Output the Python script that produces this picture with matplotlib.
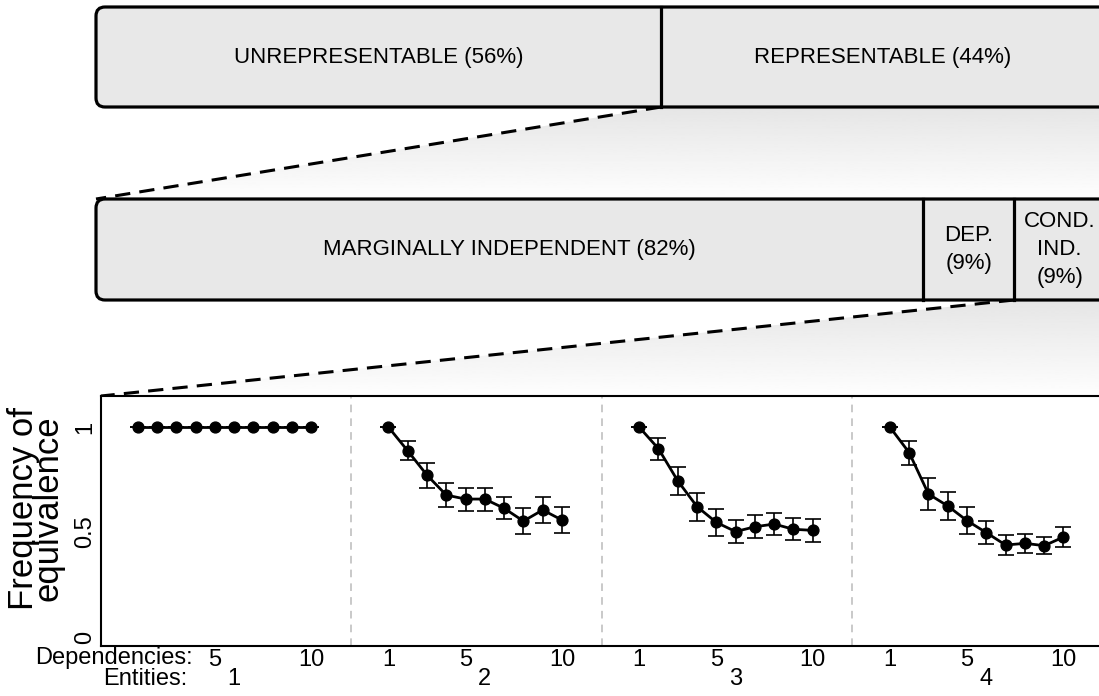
import numpy as np
import matplotlib
matplotlib.use("Agg")
import matplotlib.pyplot as plt
from matplotlib.patches import FancyBboxPatch, Polygon
import matplotlib.transforms as mtransforms

plt.rcParams['font.family'] = ['Liberation Sans', 'DejaVu Sans']

# данные: доли в полосах
top_labels = ["UNREPRESENTABLE (56%)", "REPRESENTABLE (44%)"]
top_shares = [56, 44]
mid_labels = ["MARGINALLY INDEPENDENT (82%)", "DEP.\n(9%)", "COND.\nIND.\n(9%)"]
mid_shares = [82, 9, 9]

# данные: частота эквивалентности по числу зависимостей
entities = [1, 2, 3, 4]
dependencies = list(range(1, 11))
freq = [
    [1.0] * 10,
    [1.0, 0.887, 0.771, 0.676, 0.657, 0.657, 0.613, 0.552, 0.605, 0.557],
    [1.0, 0.897, 0.744, 0.621, 0.546, 0.502, 0.525, 0.538, 0.513, 0.508],
    [1.0, 0.878, 0.681, 0.624, 0.554, 0.497, 0.438, 0.446, 0.435, 0.476],
]
errs = [
    [0.0] * 10,
    [0.0, 0.045, 0.059, 0.059, 0.055, 0.055, 0.053, 0.062, 0.060, 0.062],
    [0.0, 0.053, 0.067, 0.067, 0.063, 0.054, 0.054, 0.054, 0.053, 0.054],
    [0.0, 0.057, 0.075, 0.065, 0.063, 0.055, 0.049, 0.046, 0.041, 0.048],
]
xticks_dep = [1, 5, 10]

W, H = 1099, 696
fig = plt.figure(figsize=(W / 100, H / 100), dpi=100)

# фоновая ось в пикселях для полос и "лупы"
bg = fig.add_axes([0, 0, 1, 1])
bg.set_xlim(0, W)
bg.set_ylim(H, 0)
bg.axis('off')

bar_x0, bar_w = 96, 1009
fill = '#e8e8e8'


def draw_bar(y0, h, shares, labels, fs):
    box = FancyBboxPatch((bar_x0, y0), bar_w + 20, h,
                         boxstyle="round,pad=0,rounding_size=9",
                         fc=fill, ec='black', lw=2.3, zorder=3)
    bg.add_patch(box)
    edges = np.cumsum([0] + shares) / 100.0 * bar_w + bar_x0
    for i, lab in enumerate(labels):
        if i > 0:
            bg.plot([edges[i], edges[i]], [y0, y0 + h], color='black', lw=2.3, zorder=4)
        bg.text((edges[i] + edges[i + 1]) / 2, y0 + h / 2, lab, ha='center', va='center',
                fontsize=fs, zorder=5, linespacing=1.45)
    return edges


def draw_zoom(x_from, y_from, x_to, y_to):
    right = bar_x0 + bar_w + 20
    poly = Polygon([(x_from, y_from), (right, y_from), (right, y_to), (x_to, y_to)],
                   closed=True, fc='none', ec='none')
    bg.add_patch(poly)
    grad = np.linspace(0.90, 0.995, 64).reshape(-1, 1)
    im = bg.imshow(grad, cmap='gray', vmin=0, vmax=1, aspect='auto',
                   extent=(x_to, right, y_to, y_from), zorder=1, interpolation='bilinear')
    im.set_clip_path(poly)
    bg.plot([x_from, x_to], [y_from, y_to], color='black', lw=2.2,
            linestyle=(0, (5, 3)), zorder=2)


e1 = draw_bar(7, 100, top_shares, top_labels, 16)
e2 = draw_bar(199, 101, mid_shares, mid_labels, 16)
draw_zoom(e1[1], 107, 96, 199)
draw_zoom(e2[2], 300, 101, 396)
bg.set_xlim(0, W)
bg.set_ylim(H, 0)

# нижний график
ax = fig.add_axes([101 / W, (H - 646) / H, (1104 - 101) / W, 250 / H])
gap = 13
for k, (vals, er) in enumerate(zip(freq, errs)):
    xs = np.array(dependencies) + gap * k
    ax.errorbar(xs, vals, yerr=er, fmt='-o', color='black', lw=2.0, ms=7.8,
                elinewidth=1.2, capsize=6, capthick=1.2)
    if k > 0:
        ax.axvline(gap * k - 0.95, color='#bbbbbb', lw=1.1, linestyle=(0, (5, 4)))

ax.set_xlim(-0.9, 51.1)
ax.set_ylim(-0.043, 1.148)

ticks, ticklabs = [], []
for k in range(len(entities)):
    for d in xticks_dep:
        if k == 0 and d == 1:
            continue
        ticks.append(d + gap * k)
        ticklabs.append(str(d))
fs = 17
ax.set_xticks(ticks)
ax.set_xticklabels(ticklabs, fontsize=fs)
ax.set_yticks([0, 0.5, 1])
ax.set_yticklabels(['0', '0.5', '1'], rotation=90, va='center', fontsize=fs)
ax.tick_params(length=0, pad=2.5)
ax.tick_params(axis='y', pad=3.5)
for s in ax.spines.values():
    s.set_linewidth(1.5)

trans = mtransforms.blended_transform_factory(ax.transData, ax.transAxes)
ax.annotate("Dependencies:", xy=(3.85, 0), xycoords=trans, xytext=(0, -8.5),
            textcoords='offset points', ha='right', va='center', fontsize=fs)
ax.annotate("Entities:", xy=(3.56, 0), xycoords=trans, xytext=(0, -23.5),
            textcoords='offset points', ha='right', va='center', fontsize=fs)
for k, ent in enumerate(entities):
    ax.annotate(str(ent), xy=(6 + gap * k, 0), xycoords=trans, xytext=(0, -23.5),
                textcoords='offset points', ha='center', va='center', fontsize=fs)

fig.text(36 / W, 1 - 508 / H, "Frequency of\nequivalence", rotation=90,
         ha='center', va='center', fontsize=25, linespacing=0.68)

fig.savefig("out.png", dpi=100)
